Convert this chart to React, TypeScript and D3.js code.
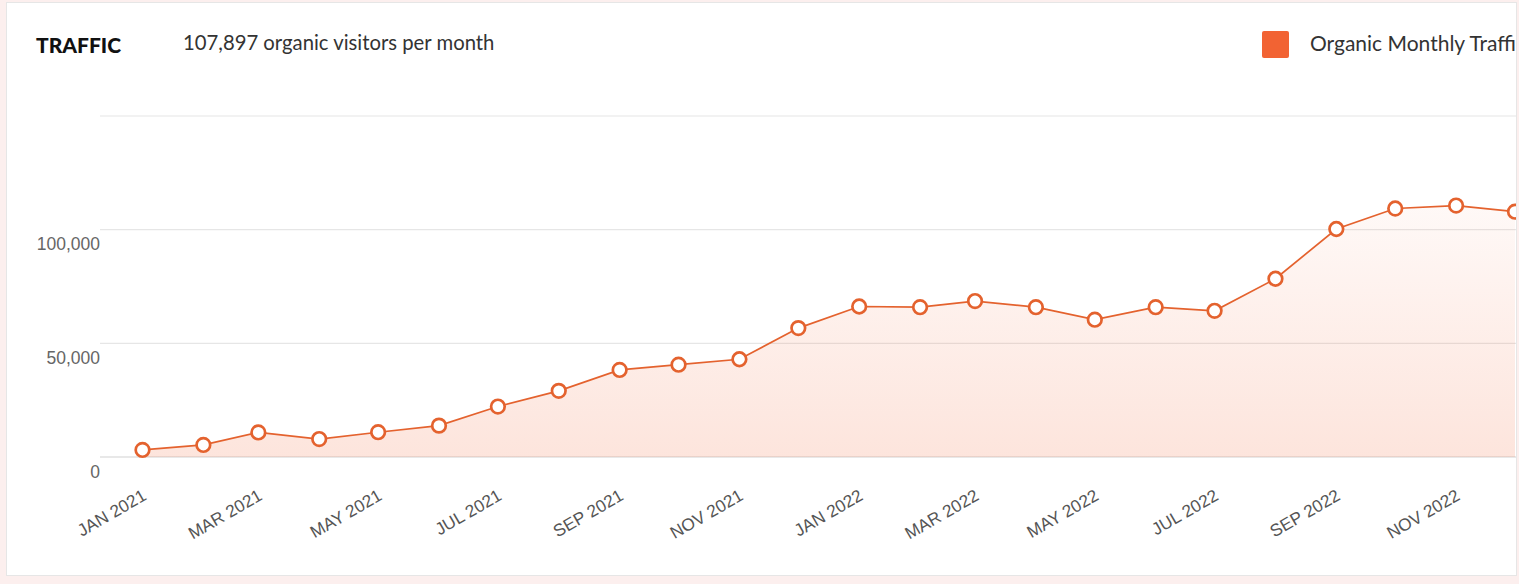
import React from "react";
import * as d3 from "d3";

const months = [
  "2021-01", "2021-02", "2021-03", "2021-04", "2021-05", "2021-06",
  "2021-07", "2021-08", "2021-09", "2021-10", "2021-11", "2021-12",
  "2022-01", "2022-02", "2022-03", "2022-04", "2022-05", "2022-06",
  "2022-07", "2022-08", "2022-09", "2022-10", "2022-11", "2022-12",
];

const organicTraffic = [
  3100, 5300, 10800, 7900, 10900, 13800,
  22200, 29100, 38300, 40600, 43000, 56700,
  66200, 65900, 68600, 65900, 60400, 65900,
  64300, 78400, 100300, 109300, 110600, 107897,
];

const yTicks = [0, 50000, 100000, 150000];
const yLabelTicks = [0, 50000, 100000];

const W = 1519;
const H = 584;
const ORANGE = "#e4622e";
const FONT = "'Liberation Sans', Arial, sans-serif";
const HEAD_FONT = "Lato, 'Noto Sans', sans-serif";

const parse = d3.timeParse("%Y-%m");
const fmtTick = d3.timeFormat("%b %Y");

const App: React.FC = () => {
  const data = months.map((m, i) => ({ date: parse(m) as Date, value: organicTraffic[i] }));

  const x = d3
    .scaleTime()
    .domain([data[0].date, data[data.length - 1].date])
    .range([142.5, 1515]);

  const y = d3.scaleLinear().domain([0, 150000]).range([457, 116]);

  const line = d3
    .line<{ date: Date; value: number }>()
    .x((d) => x(d.date))
    .y((d) => y(d.value));

  const area = d3
    .area<{ date: Date; value: number }>()
    .x((d) => x(d.date))
    .y0(y(0))
    .y1((d) => y(d.value));

  // every second month gets a label
  const xTicks = data.filter((_, i) => i % 2 === 0).map((d) => d.date);

  return (
    <div style={{ position: "absolute", left: 0, top: 0 }}>
      <svg width={W} height={H} style={{ display: "block" }}>
        <defs>
          <clipPath id="card">
            <rect x={6} y={2} width={1510} height={573} />
          </clipPath>
          <linearGradient id="areaFill" gradientUnits="userSpaceOnUse" x1={0} y1={150} x2={0} y2={457}>
            <stop offset="0%" stopColor="#f26333" stopOpacity={0.01} />
            <stop offset="100%" stopColor="#f26333" stopOpacity={0.17} />
          </linearGradient>
        </defs>

        <rect x={0} y={0} width={W} height={H} fill="#fcefee" />
        <rect x={6.5} y={2.5} width={1510} height={573} fill="#ffffff" stroke="#e6e6e6" />

        <g clipPath="url(#card)">
          {/* header */}
          <text x={36} y={53} fontFamily={HEAD_FONT} fontWeight={900} fontSize={21} fill="#111">
            TRAFFIC
          </text>
          <text x={183} y={50} fontFamily={HEAD_FONT} fontSize={20.3} fill="#333">
            107,897 organic visitors per month
          </text>

          {/* legend */}
          <rect x={1262} y={31} width={27} height={27} rx={2} fill="#f26333" />
          <text x={1310} y={51} fontFamily={HEAD_FONT} fontSize={21} fill="#333">
            Organic Monthly Traffic
          </text>

          {/* grid */}
          {yTicks.map((t) => (
            <line
              key={t}
              x1={100}
              x2={1516}
              y1={y(t)}
              y2={y(t)}
              stroke={t === 0 ? "#d2d2d2" : "#e6e6e6"}
              strokeWidth={1.2}
            />
          ))}
          {yLabelTicks.map((t) => (
            <text
              key={t}
              x={100}
              y={y(t) + 20.5}
              textAnchor="end"
              fontFamily={FONT}
              fontSize={17.5}
              fill="#666"
            >
              {d3.format(",")(t)}
            </text>
          ))}

          {/* series */}
          <path d={area(data) || ""} fill="url(#areaFill)" />
          <path d={line(data) || ""} fill="none" stroke={ORANGE} strokeWidth={1.7} />
          {data.map((d) => (
            <circle
              key={d.date.getTime()}
              cx={x(d.date)}
              cy={y(d.value)}
              r={6.8}
              fill="#fff"
              stroke={ORANGE}
              strokeWidth={2.7}
            />
          ))}

          {/* x axis labels */}
          {xTicks.map((d) => (
            <text
              key={d.getTime()}
              transform={`translate(${x(d) + 5},${499}) rotate(-30)`}
              textAnchor="end"
              fontFamily={FONT}
              fontSize={17.3}
              fill="#555"
            >
              {fmtTick(d).toUpperCase()}
            </text>
          ))}
        </g>
      </svg>
    </div>
  );
};

export default App;
